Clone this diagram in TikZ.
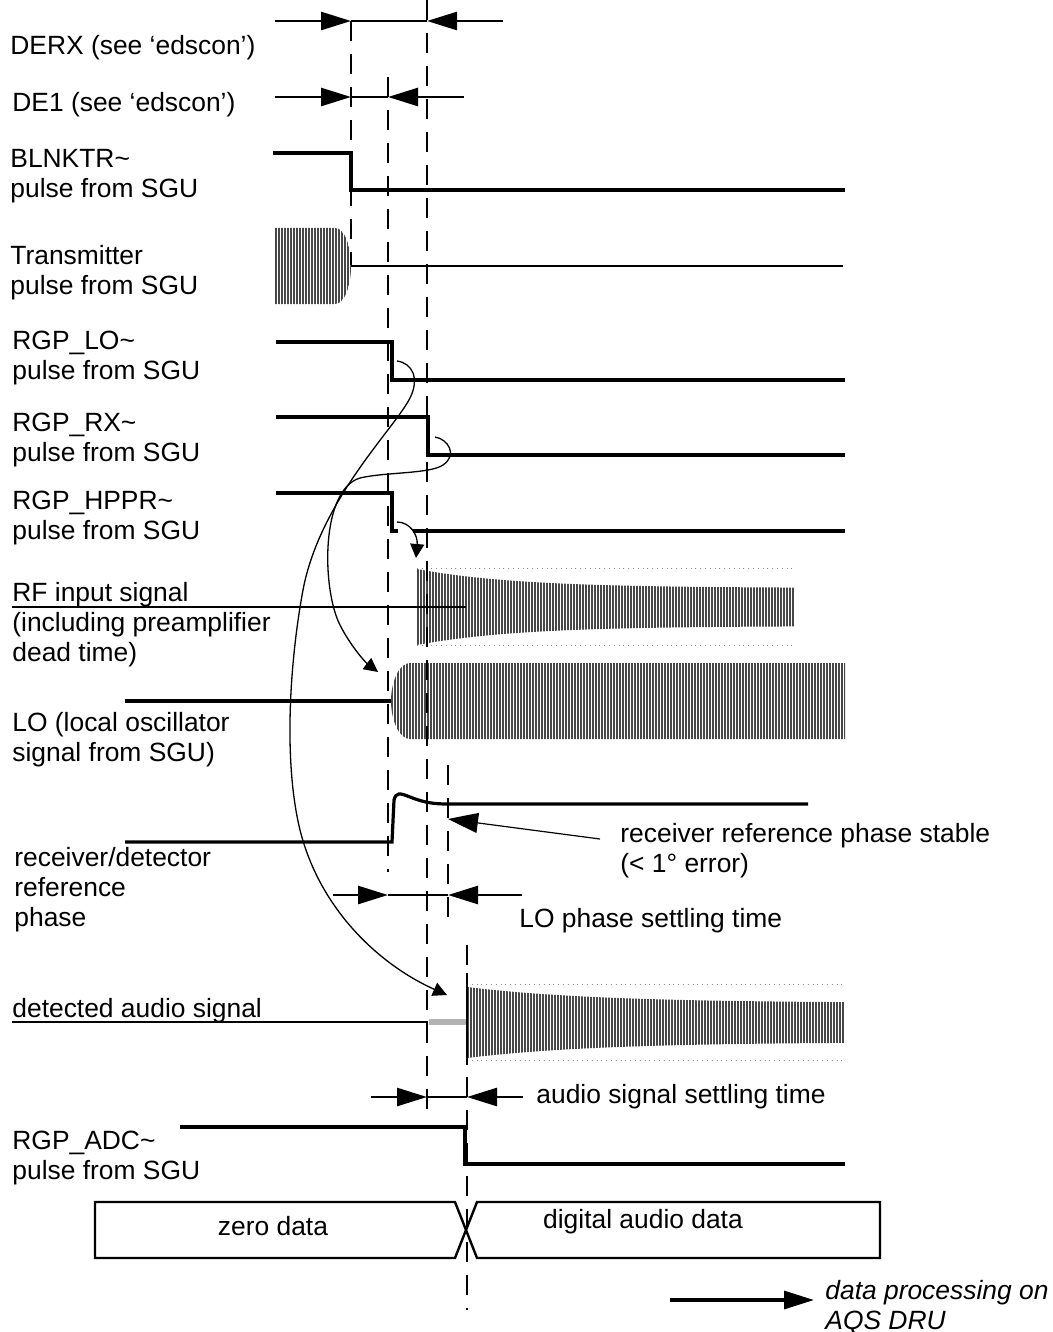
\documentclass[tikz,border=0pt]{standalone}
\usepackage{fontspec}
\setmainfont{Liberation Sans}
\usetikzlibrary{arrows.meta}
\tikzset{
  timeline/.style={black,line width=1.4pt,dash pattern=on 10pt off 6.5pt},
  pulse/.style={black,line width=1.6pt},
  sig/.style={black,line width=1pt},
  dimline/.style={black,line width=1.3pt},
  stripe/.style={black!72,line width=0.9pt},
  envelope/.style={black!45,line width=0.4pt,dotted},
  bend arrow/.style={black,line width=0.65pt,-{Triangle[length=7pt,width=7pt]}},
  lab/.style={anchor=north west,inner sep=0pt,align=left,
    font=\fontsize{13.2}{15}\selectfont},
  boxtext/.style={inner sep=0pt,font=\fontsize{13.2}{15}\selectfont}
}

\begin{document}
\begin{tikzpicture}[x=0.5pt,y=-0.5pt,>={Triangle[length=15pt,width=9pt]}]

    % parameters
    \def\tA{351}   % end of DERX / DE1 start
    \def\tB{388}   % end of DE1
    \def\tC{427}   % end of DERX
    \def\tD{448}   % LO phase stable
    \def\tE{467}   % audio signal stable
    \def\xend{845}

    \useasboundingbox (0,0) rectangle (1053,1332);

    % hatched signals
    \begin{scope}
        \clip (275,228) -- (335,228) .. controls (345,228) and (351,247) .. (351,266)
              .. controls (351,285) and (345,304) .. (335,304) -- (275,304) -- cycle;
        \foreach \sx in {276,279,...,352} {
            \draw[stripe] (\sx,225) -- (\sx,307);
        }
    \end{scope}
    \begin{scope}
        \clip plot[domain=417:795,samples=40] (\x,{588-19*exp(-(\x-417)/100)})
              -- plot[domain=795:417,samples=40] (\x,{626+19*exp(-(\x-417)/100)}) -- cycle;
        \foreach \sx in {418,421,...,795} {
            \draw[stripe] (\sx,565) -- (\sx,650);
        }
    \end{scope}
    \begin{scope}
        \clip (\xend,663) -- (410,663) .. controls (399,663) and (391,682) .. (391,701)
              .. controls (391,720) and (399,739) .. (410,739) -- (\xend,739) -- cycle;
        \foreach \sx in {392,395,...,845} {
            \draw[stripe] (\sx,660) -- (\sx,742);
        }
    \end{scope}
    \begin{scope}
        \clip plot[domain=467:845,samples=40] (\x,{1003-16*exp(-(\x-467)/130)})
              -- plot[domain=845:467,samples=40] (\x,{1042+16*exp(-(\x-467)/130)}) -- cycle;
        \foreach \sx in {468,471,...,845} {
            \draw[stripe] (\sx,980) -- (\sx,1062);
        }
    \end{scope}
    \draw[envelope] (417,568) -- (795,568);
    \draw[envelope] (417,645) -- (795,645);
    \draw[envelope] (467,984) -- (\xend,984);
    \draw[envelope] (467,1060) -- (\xend,1060);

    % timing marks
    \draw[timeline] (\tA,21) -- (\tA,265);
    \draw[timeline] (\tB,77) -- (\tB,872);
    \draw[timeline] (\tC,0) -- (\tC,1118);
    \draw[timeline] (\tD,765) -- (\tD,928);
    \draw[timeline] (\tE,945) -- (\tE,1310);
    \draw[sig] (\tE,973) -- (\tE,1065);

    % DERX, DE1
    \draw[dimline,->] (275,21) -- (\tA,21);
    \draw[dimline] (\tA,21) -- (\tC,21);
    \draw[dimline,->] (503,21) -- (\tC,21);
    \draw[dimline,->] (275,97) -- (\tA,97);
    \draw[dimline] (\tA,97) -- (\tB,97);
    \draw[dimline,->] (464,97) -- (\tB,97);

    % pulses from SGU
    \draw[pulse] (273,153) -- (\tA,153) -- (\tA,190) -- (\xend,190);
    \draw[sig] (\tA,266) -- (843,266);
    \draw[pulse] (276,342) -- (392,342) -- (392,380) -- (\xend,380);
    \draw[pulse] (276,417) -- (428,417) -- (428,455) -- (\xend,455);
    \draw[pulse] (276,493) -- (392,493) -- (392,531) -- (398,531);
    \draw[pulse] (413,531) -- (\xend,531);

    % RF input, LO, reference phase
    \draw[sig] (12,607) -- (466,607);
    \draw[pulse] (125,701) -- (391,701);
    \draw[pulse] (125,842) -- (392,842) -- (394,800)
        .. controls (396,792) and (400,793) .. (410,797)
        .. controls (425,803) and (435,804) .. (\tD,804) -- (808,804);

    % detected audio signal
    \draw[sig] (12,1022) -- (428,1022);
    \draw[black!30,line width=3pt] (429,1022) -- (466,1022);

    % RGP_ADC
    \draw[pulse] (180,1127) -- (465,1127) -- (465,1164) -- (\xend,1164);

    % data words
    \draw[sig,line width=1.2pt] (95,1202) -- (455,1202) -- (466,1230) -- (455,1258) -- (95,1258) -- cycle;
    \draw[sig,line width=1.2pt] (880,1202) -- (477,1202) -- (466,1230) -- (477,1258) -- (880,1258) -- cycle;

    % causal arrows
    \draw[bend arrow] (397,522) .. controls (410,522) and (418,535) .. (416,558);
    \draw[bend arrow] (435,437) .. controls (448,439) and (458,455) .. (443,465)
        .. controls (430,474) and (385,472) .. (360,478)
        .. controls (320,490) and (322,590) .. (340,625)
        .. controls (350,645) and (365,662) .. (378,672);
    \draw[bend arrow] (397,361) .. controls (412,363) and (420,378) .. (410,398)
        .. controls (395,428) and (320,500) .. (303,590)
        .. controls (290,660) and (283,760) .. (300,830)
        .. controls (320,910) and (380,965) .. (447,995);

    % settling times
    \coordinate (phasestable) at (\tD,819);
    \draw[black,line width=0.6pt,-{Triangle[length=15pt,width=10pt]}] (600,839) -- (phasestable);
    \draw[dimline,->] (333,895) -- (\tB,895);
    \draw[dimline] (\tB,895) -- (\tD,895);
    \draw[dimline,->] (522,895) -- (\tD,895);
    \draw[dimline,->] (371,1097) -- (\tC,1097);
    \draw[dimline] (\tC,1097) -- (\tE,1097);
    \draw[dimline,->] (523,1097) -- (\tE,1097);
    \draw[pulse,->] (670,1300) -- (814,1300);

    % labels
    \node[lab] (derx) at (10,33) {\strut DERX (see `edscon')};
    \node[lab] (deone) at (12,90) {\strut DE1 (see `edscon')};
    \node[lab] (blnktr) at (10,146) {\strut BLNKTR\textasciitilde\\pulse from SGU};
    \node[lab] (trans) at (10,243) {\strut Transmitter\\pulse from SGU};
    \node[lab] (rgplo) at (12,328) {\strut RGP\_LO\textasciitilde\\pulse from SGU};
    \node[lab] (rgprx) at (12,410) {\strut RGP\_RX\textasciitilde\\pulse from SGU};
    \node[lab] (rgphppr) at (12,488) {\strut RGP\_HPPR\textasciitilde\\pulse from SGU};
    \node[lab] (rfin) at (12,580) {\strut RF input signal\\(including preamplifier\\dead time)};
    \node[lab] (losc) at (12,710) {\strut LO (local oscillator\\signal from SGU)};
    \node[lab] (refphase) at (14,845) {\strut receiver/detector\\reference\\phase};
    \node[lab] (stable) at (620,821) {\strut receiver reference phase stable\\(< 1° error)};
    \node[lab] (losettle) at (519,906) {\strut LO phase settling time};
    \node[lab] (audio) at (12,996) {\strut detected audio signal};
    \node[lab] (audiosettle) at (536,1082) {\strut audio signal settling time};
    \node[lab] (rgpadc) at (12,1128) {\strut RGP\_ADC\textasciitilde\\pulse from SGU};
    \node[boxtext] (zero) at (273,1226) {zero data};
    \node[boxtext] (digital) at (643,1222) {digital audio data};
    \node[lab,font=\fontsize{13.2}{15}\selectfont\itshape] (dru) at (825,1278) {\strut data processing on\\AQS DRU};

\end{tikzpicture}
\end{document}
